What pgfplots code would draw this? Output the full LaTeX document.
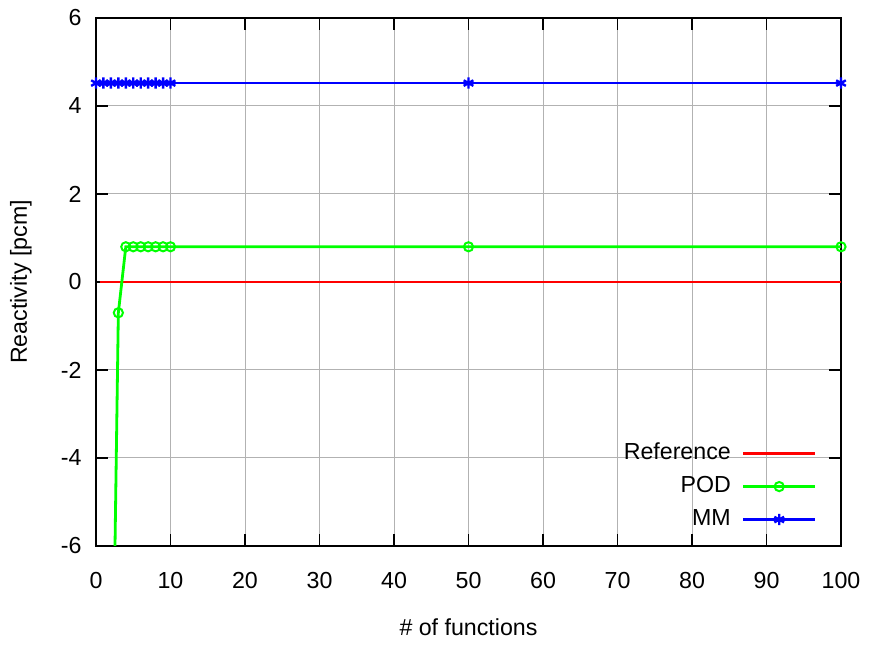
\documentclass[border=0pt]{standalone}
\usepackage{pgfplots}
\pgfplotsset{compat=1.18}
\usepackage{fontspec}
\setmainfont{Liberation Sans}
\begin{document}
\begin{tikzpicture}
\begin{axis}[
  name=ax,
  scale only axis,
  width=372.5pt, height=264pt,
  xmin=0, xmax=100, ymin=-6, ymax=6,
  xtick={0,10,...,100}, ytick={-6,-4,...,6},
  /pgf/number format/assume math mode=true,
  tick label style={font=\fontsize{11.6}{13}\selectfont},
  xticklabel style={anchor=base, yshift=-21.5pt},
  yticklabel style={anchor=east, inner sep=0pt, xshift=-7pt},
  label style={font=\fontsize{11.6}{13}\selectfont},
  xlabel={\# of functions},
  ylabel={Reactivity [pcm]},
  xlabel style={at={(axis description cs:0.5,0)}, anchor=base, yshift=-45pt},
  ylabel style={at={(axis description cs:0,0.5)}, anchor=center, yshift=37.5pt},
  grid=major,
  major grid style={gray!60, line width=0.5pt},
  tick align=inside,
  major tick length=6pt,
  major tick style={black, line width=0.6pt},
  axis line style={black, line width=0.7pt},
  clip=true,
  legend style={draw=none, fill=none, inner sep=0pt, at={(rel axis cs:1,0)}, anchor=south east,
    xshift=-12pt, yshift=7.5pt,
    font=\fontsize{11.6}{13}\selectfont, row sep=5.5pt, column sep=5.5pt,
    nodes={inner sep=0pt, text height=8.5pt, text depth=2.5pt}},
  legend cell align=right,
  legend plot pos=right,
  legend image code/.code={\draw[mark repeat=2,mark phase=2,#1] plot coordinates {(0pt,0pt) (18pt,0pt) (36pt,0pt)};},
]
\addplot[red, line width=1.4pt] coordinates {(0.5,0) (1,0) (2,0) (3,0) (4,0) (5,0) (6,0) (7,0) (8,0) (9,0) (10,0) (50,0) (100,0)};
\addlegendentry{Reference}
\addplot[green, line width=1.4pt, mark=o, mark size=2.3pt, mark options={line width=1pt}] coordinates {(1,-40) (2,-12.5) (3,-0.7) (4,0.8) (5,0.8) (6,0.8) (7,0.8) (8,0.8) (9,0.8) (10,0.8) (50,0.8) (100,0.8)};
\addlegendentry{POD}
\addplot[blue, line width=1.4pt, mark=asterisk, mark size=2.8pt, mark options={line width=1.2pt}] coordinates {(0,4.52) (1,4.52) (2,4.52) (3,4.52) (4,4.52) (5,4.52) (6,4.52) (7,4.52) (8,4.52) (9,4.52) (10,4.52) (50,4.52) (100,4.52)};
\addlegendentry{MM}
\end{axis}
\path (ax.south west) ++(-48pt,-50.5pt);
\path (ax.north east) ++(14.5pt,9pt);
\end{tikzpicture}
\end{document}
